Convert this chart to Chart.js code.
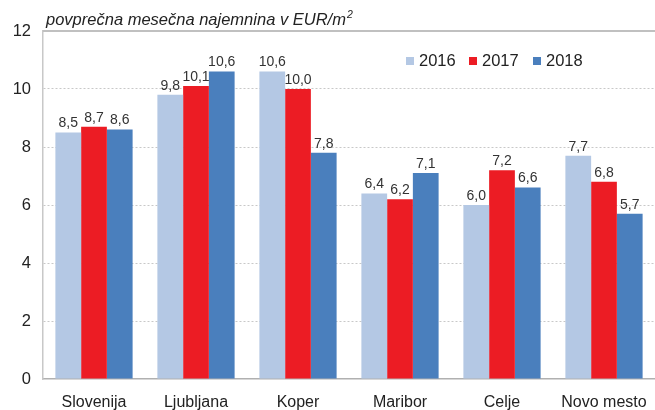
<!DOCTYPE html>
<html>
<head>
<meta charset="utf-8">
<script src="https://cdn.jsdelivr.net/npm/chart.js@4"></script>
<style>
  body { margin: 0; background: #fff; }
  #wrap { width: 655px; height: 410px; }
</style>
</head>
<body>
<div id="wrap"><canvas id="canvas" width="655" height="410"></canvas></div>
<script>
const regions = ['Slovenija', 'Ljubljana', 'Koper', 'Maribor', 'Celje', 'Novo mesto'];
const rent2016 = [8.5, 9.8, 10.6, 6.4, 6.0, 7.7];
const rent2017 = [8.7, 10.1, 10.0, 6.2, 7.2, 6.8];
const rent2018 = [8.6, 10.6, 7.8, 7.1, 6.6, 5.7];
const years = ['2016', '2017', '2018'];
const yTicks = [0, 2, 4, 6, 8, 10, 12];

const colors = ['#b4c8e4', '#ec1c24', '#4a7fbd'];
const fontFam = '"Liberation Sans", Arial, sans-serif';

// value labels above bars
const labelPlugin = {
    id: 'barLabels',
    afterDatasetsDraw(chart) {
        const ctx = chart.ctx;
        ctx.save();
        ctx.font = '14px ' + fontFam;
        ctx.fillStyle = '#333';
        ctx.textAlign = 'center';
        ctx.textBaseline = 'bottom';
        chart.data.datasets.forEach((ds, i) => {
            chart.getDatasetMeta(i).data.forEach((bar, j) => {
                ctx.fillText(ds.data[j].toFixed(1).replace('.', ','), bar.x, bar.y - 2);
            });
        });
        ctx.restore();
    }
};

// title, legend and top frame line
const headPlugin = {
    id: 'head',
    beforeDatasetsDraw(chart) {
        const ctx = chart.ctx, a = chart.chartArea;
        ctx.save();
        ctx.strokeStyle = '#c0c0c0';
        ctx.lineWidth = 2;
        ctx.beginPath();
        ctx.moveTo(a.left, a.top);
        ctx.lineTo(a.right, a.top);
        ctx.stroke();
        ctx.restore();
    },
    afterDraw(chart) {
        const ctx = chart.ctx;
        ctx.save();
        ctx.fillStyle = '#222';
        ctx.textBaseline = 'alphabetic';
        ctx.font = 'italic 16.5px ' + fontFam;
        const t = 'povprečna mesečna najemnina v EUR/m';
        ctx.fillText(t, 46, 25);
        const w = ctx.measureText(t).width;
        ctx.font = 'italic 10.5px ' + fontFam;
        ctx.fillText('2', 46 + w + 1, 18);

        const xs = [406, 469, 533];
        ctx.font = '16.5px ' + fontFam;
        ctx.textBaseline = 'middle';
        chart.data.datasets.forEach((ds, i) => {
            ctx.fillStyle = ds.backgroundColor;
            ctx.fillRect(xs[i], 57, 8, 8);
            ctx.fillStyle = '#222';
            ctx.fillText(ds.label, xs[i] + 13, 61);
        });
        ctx.restore();
    }
};

new Chart(document.getElementById('canvas'), {
    type: 'bar',
    data: {
        labels: regions,
        datasets: [
            { label: years[0], data: rent2016, backgroundColor: colors[0] },
            { label: years[1], data: rent2017, backgroundColor: colors[1] },
            { label: years[2], data: rent2018, backgroundColor: colors[2] }
        ]
    },
    options: {
        responsive: false,
        animation: false,
        layout: { padding: { top: 31, right: -6, left: 0, bottom: 0 } },
        datasets: {
            bar: { categoryPercentage: 0.757, barPercentage: 1.0 }
        },
        plugins: {
            legend: { display: false },
            title: { display: false },
            tooltip: { enabled: false }
        },
        scales: {
            x: {
                grid: { display: false },
                border: { color: '#b0b0b0', width: 1.5 },
                ticks: {
                    color: '#222',
                    padding: 6,
                    font: { family: fontFam, size: 16 }
                },
                afterFit(scale) { scale.height = 31; }
            },
            y: {
                min: 0,
                max: 12,
                afterBuildTicks(scale) { scale.ticks = yTicks.map(v => ({ value: v })); },
                grid: {
                    color: (c) => c.tick && (c.tick.value === 12 || c.tick.value === 0) ? 'rgba(0,0,0,0)' : '#c8c8c8',
                    lineWidth: 1,
                    drawTicks: false
                },
                border: { color: '#c8c8c8', width: 1.5, dash: [2, 2] },
                ticks: {
                    color: '#222',
                    padding: 12,
                    font: { family: fontFam, size: 16.5 }
                },
                afterFit(scale) { scale.width = 43; }
            }
        }
    },
    plugins: [labelPlugin, headPlugin]
});
</script>
</body>
</html>
